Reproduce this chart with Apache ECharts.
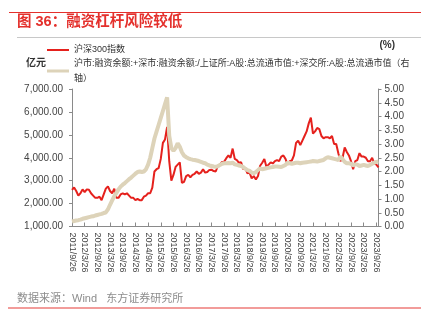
<!DOCTYPE html>
<html>
<head>
<meta charset="utf-8">
<script src="https://cdn.jsdelivr.net/npm/echarts@6/dist/echarts.min.js"></script>
<style>
html,body{margin:0;padding:0;background:#fff;}
#c{width:421px;height:329px;}
</style>
</head>
<body>
<div id="c"></div>
<script>
const categories = [
'2011/9/26','2011/10/26','2011/11/26','2011/12/26',
'2012/1/26','2012/2/26','2012/3/26','2012/4/26','2012/5/26','2012/6/26','2012/7/26','2012/8/26','2012/9/26','2012/10/26','2012/11/26','2012/12/26',
'2013/1/26','2013/2/26','2013/3/26','2013/4/26','2013/5/26','2013/6/26','2013/7/26','2013/8/26','2013/9/26','2013/10/26','2013/11/26','2013/12/26',
'2014/1/26','2014/2/26','2014/3/26','2014/4/26','2014/5/26','2014/6/26','2014/7/26','2014/8/26','2014/9/26','2014/10/26','2014/11/26','2014/12/26',
'2015/1/26','2015/2/26','2015/3/26','2015/4/26','2015/5/26','2015/6/26','2015/7/26','2015/8/26','2015/9/26','2015/10/26','2015/11/26','2015/12/26',
'2016/1/26','2016/2/26','2016/3/26','2016/4/26','2016/5/26','2016/6/26','2016/7/26','2016/8/26','2016/9/26','2016/10/26','2016/11/26','2016/12/26',
'2017/1/26','2017/2/26','2017/3/26','2017/4/26','2017/5/26','2017/6/26','2017/7/26','2017/8/26','2017/9/26','2017/10/26','2017/11/26','2017/12/26',
'2018/1/26','2018/2/26','2018/3/26','2018/4/26','2018/5/26','2018/6/26','2018/7/26','2018/8/26','2018/9/26','2018/10/26','2018/11/26','2018/12/26',
'2019/1/26','2019/2/26','2019/3/26','2019/4/26','2019/5/26','2019/6/26','2019/7/26','2019/8/26','2019/9/26','2019/10/26','2019/11/26','2019/12/26',
'2020/1/26','2020/2/26','2020/3/26','2020/4/26','2020/5/26','2020/6/26','2020/7/26','2020/8/26','2020/9/26','2020/10/26','2020/11/26','2020/12/26',
'2021/1/26','2021/2/26','2021/3/26','2021/4/26','2021/5/26','2021/6/26','2021/7/26','2021/8/26','2021/9/26','2021/10/26','2021/11/26','2021/12/26',
'2022/1/26','2022/2/26','2022/3/26','2022/4/26','2022/5/26','2022/6/26','2022/7/26','2022/8/26','2022/9/26','2022/10/26','2022/11/26','2022/12/26',
'2023/1/26','2023/2/26','2023/3/26','2023/4/26','2023/5/26','2023/6/26','2023/7/26','2023/8/26','2023/9/26','2023/10/26'
];

const csi300 = [
2600, 2700, 2550, 2350,
2450, 2620, 2500, 2620, 2600, 2450, 2350, 2250, 2250, 2300, 2150, 2400,
2650, 2750, 2550, 2450, 2650, 2250, 2250, 2400, 2450, 2400, 2450, 2350,
2250, 2250, 2150, 2200, 2150, 2150, 2300, 2350, 2450, 2450, 2700, 3400,
3500, 3550, 3950, 4650, 4800, 5350, 3850, 3000, 3250, 3600, 3700, 3800,
2900, 2950, 3200, 3250, 3150, 3250, 3300, 3400, 3300, 3350, 3500, 3350,
3380, 3470, 3480, 3420, 3400, 3640, 3710, 3820, 3830, 3980, 4100, 4000,
4400, 3950, 3900, 3780, 3800, 3500, 3550, 3320, 3350, 3100, 3200, 3050,
3200, 3650, 3780, 3950, 3600, 3700, 3800, 3750, 3850, 3900, 3850, 4050,
4100, 3950, 3700, 3850, 3880, 4100, 4650, 4750, 4550, 4750, 4950, 5150,
5500, 5750, 5050, 5150, 5300, 5250, 4950, 4850, 4900, 4900, 4850, 4950,
4600, 4600, 4200, 3850, 4000, 4450, 4250, 4100, 3850, 3500, 3850, 3900,
4200, 4050, 4050, 4000, 3850, 3850, 4000, 3750, 3700, 3580
];

const marginRatio = [
0.18, 0.20, 0.22, 0.23,
0.25, 0.28, 0.30, 0.32, 0.34, 0.36, 0.37, 0.40, 0.42, 0.44, 0.46, 0.49,
0.51, 0.62, 0.79, 0.95, 1.10, 1.22, 1.35, 1.45, 1.52, 1.58, 1.65, 1.72,
1.78, 1.85, 1.92, 1.98, 2.00, 1.98, 2.00, 2.08, 2.25, 2.50, 2.85, 3.20,
3.45, 3.70, 3.95, 4.20, 4.45, 4.70, 3.30, 2.85, 2.75, 2.85, 3.03, 2.90,
2.70, 2.58, 2.52, 2.48, 2.45, 2.43, 2.42, 2.40, 2.38, 2.35, 2.32, 2.30,
2.25, 2.22, 2.20, 2.18, 2.17, 2.19, 2.24, 2.28, 2.30, 2.30, 2.31, 2.30,
2.32, 2.26, 2.24, 2.22, 2.20, 2.16, 2.10, 2.05, 2.02, 1.96, 1.94, 1.98,
2.05, 2.12, 2.08, 2.10, 2.12, 2.14, 2.15, 2.16, 2.18, 2.18, 2.17, 2.16,
2.20, 2.24, 2.32, 2.30, 2.28, 2.30, 2.32, 2.32, 2.30, 2.32, 2.33, 2.34,
2.35, 2.36, 2.38, 2.37, 2.36, 2.38, 2.40, 2.42, 2.48, 2.52, 2.50, 2.48,
2.46, 2.44, 2.42, 2.55, 2.45, 2.35, 2.30, 2.30, 2.28, 2.22, 2.26, 2.25,
2.20, 2.22, 2.24, 2.22, 2.20, 2.24, 2.28, 2.32, 2.35, 2.36
];

const seriesNames = ['沪深300指数', '沪市:融资余额:+深市:融资余额:/上证所:A股:总流通市值:+深交所:A股:总流通市值（右轴）'];
const titleText = '图 36：融资杠杆风险较低';
const sourceText = '数据来源：Wind   东方证券研究所';
const leftUnit = '亿元';
const rightUnit = '(%)';

const FONT = '"Liberation Sans", Arial, "Noto Sans CJK SC", sans-serif';
const RED = '#e5211d';
const BEIGE = '#ddd3b9';

const chart = echarts.init(document.getElementById('c'), null, {renderer: 'canvas'});
chart.setOption({
  animation: false,
  backgroundColor: '#fff',
  textStyle: {fontFamily: FONT},
  title: [
    {text: titleText, left: 17, top: 15, padding: 0,
     textStyle: {fontFamily: FONT, fontSize: 14.5, fontWeight: 'bold', color: '#e4302c'}},
    {text: sourceText, left: 17, top: 293, padding: 0,
     textStyle: {fontFamily: FONT, fontSize: 11, fontWeight: 'normal', color: '#8c8c8c'}}
  ],
  graphic: [
    {type: 'line', shape: {x1: 9, y1: 12.5, x2: 421, y2: 12.5}, style: {stroke: '#e4302c', lineWidth: 1.2}, silent: true},
    {type: 'line', shape: {x1: 17, y1: 37.5, x2: 421, y2: 37.5}, style: {stroke: '#c8c8c8', lineWidth: 1}, silent: true},
    {type: 'line', shape: {x1: 8, y1: 308, x2: 421, y2: 308}, style: {stroke: '#ee7b78', lineWidth: 1.5}, silent: true}
  ],
  legend: [
    {data: [seriesNames[0]], left: 47, top: 44, padding: 0, orient: 'vertical',
     selectedMode: false, itemWidth: 22, itemHeight: 2, icon: 'rect', itemGap: 0,
     textStyle: {fontFamily: FONT, fontSize: 9, color: '#333', lineHeight: 12}},
    {data: [seriesNames[1]], left: 47, top: 48.5, padding: 0, orient: 'vertical',
     selectedMode: false, itemWidth: 22, itemHeight: 3, icon: 'rect', itemGap: 0,
     textStyle: {fontFamily: FONT, fontSize: 9, color: '#333', lineHeight: 15,
                 width: 340, overflow: 'break', padding: [15, 0, 0, 0]}}
  ],
  grid: {left: 72, right: 42.5, top: 89, bottom: 102.5, containLabel: false},
  xAxis: {
    type: 'category', data: categories, boundaryGap: false,
    axisLine: {lineStyle: {color: '#8a8a8a', width: 1}},
    axisTick: {show: true, interval: 5, inside: true, length: 4, lineStyle: {color: '#8a8a8a'}},
    axisLabel: {interval: 5, rotate: -90, fontSize: 9, color: '#444', margin: 6, fontFamily: FONT},
    splitLine: {show: false}
  },
  yAxis: [
    {type: 'value', min: 1000, max: 7000, interval: 1000, position: 'left',
     name: leftUnit, nameLocation: 'end', nameGap: 26,
     nameTextStyle: {fontFamily: FONT, fontSize: 10, fontWeight: 'bold', color: '#333', align: 'right', verticalAlign: 'middle', padding: [0, 26, 0, 0]},
     axisLine: {show: true, lineStyle: {color: '#8a8a8a'}},
     axisTick: {show: true, length: 3, lineStyle: {color: '#8a8a8a'}},
     axisLabel: {fontSize: 10, color: '#444', margin: 9, fontFamily: FONT,
       formatter: v => v.toLocaleString('en-US', {minimumFractionDigits: 2, maximumFractionDigits: 2})},
     splitLine: {show: false}},
    {type: 'value', min: 0, max: 5, interval: 0.5, position: 'right',
     name: rightUnit, nameLocation: 'end', nameGap: 44,
     nameTextStyle: {fontFamily: FONT, fontSize: 10, fontWeight: 'bold', color: '#333', align: 'left', verticalAlign: 'middle', padding: [0, 0, 0, 1]},
     axisLine: {show: true, lineStyle: {color: '#8a8a8a'}},
     axisTick: {show: true, length: 3, lineStyle: {color: '#8a8a8a'}},
     axisLabel: {fontSize: 10, color: '#444', margin: 6, fontFamily: FONT, formatter: v => v.toFixed(2)},
     splitLine: {show: false}}
  ],
  series: [
    {name: seriesNames[0], type: 'line', yAxisIndex: 0, data: csi300, showSymbol: false, symbol: 'none',
     lineStyle: {color: RED, width: 2}, itemStyle: {color: RED}, z: 2},
    {name: seriesNames[1], type: 'line', yAxisIndex: 1, data: marginRatio, showSymbol: false, symbol: 'none',
     lineStyle: {color: BEIGE, width: 4}, itemStyle: {color: BEIGE}, z: 3}
  ]
});
</script>
</body>
</html>
